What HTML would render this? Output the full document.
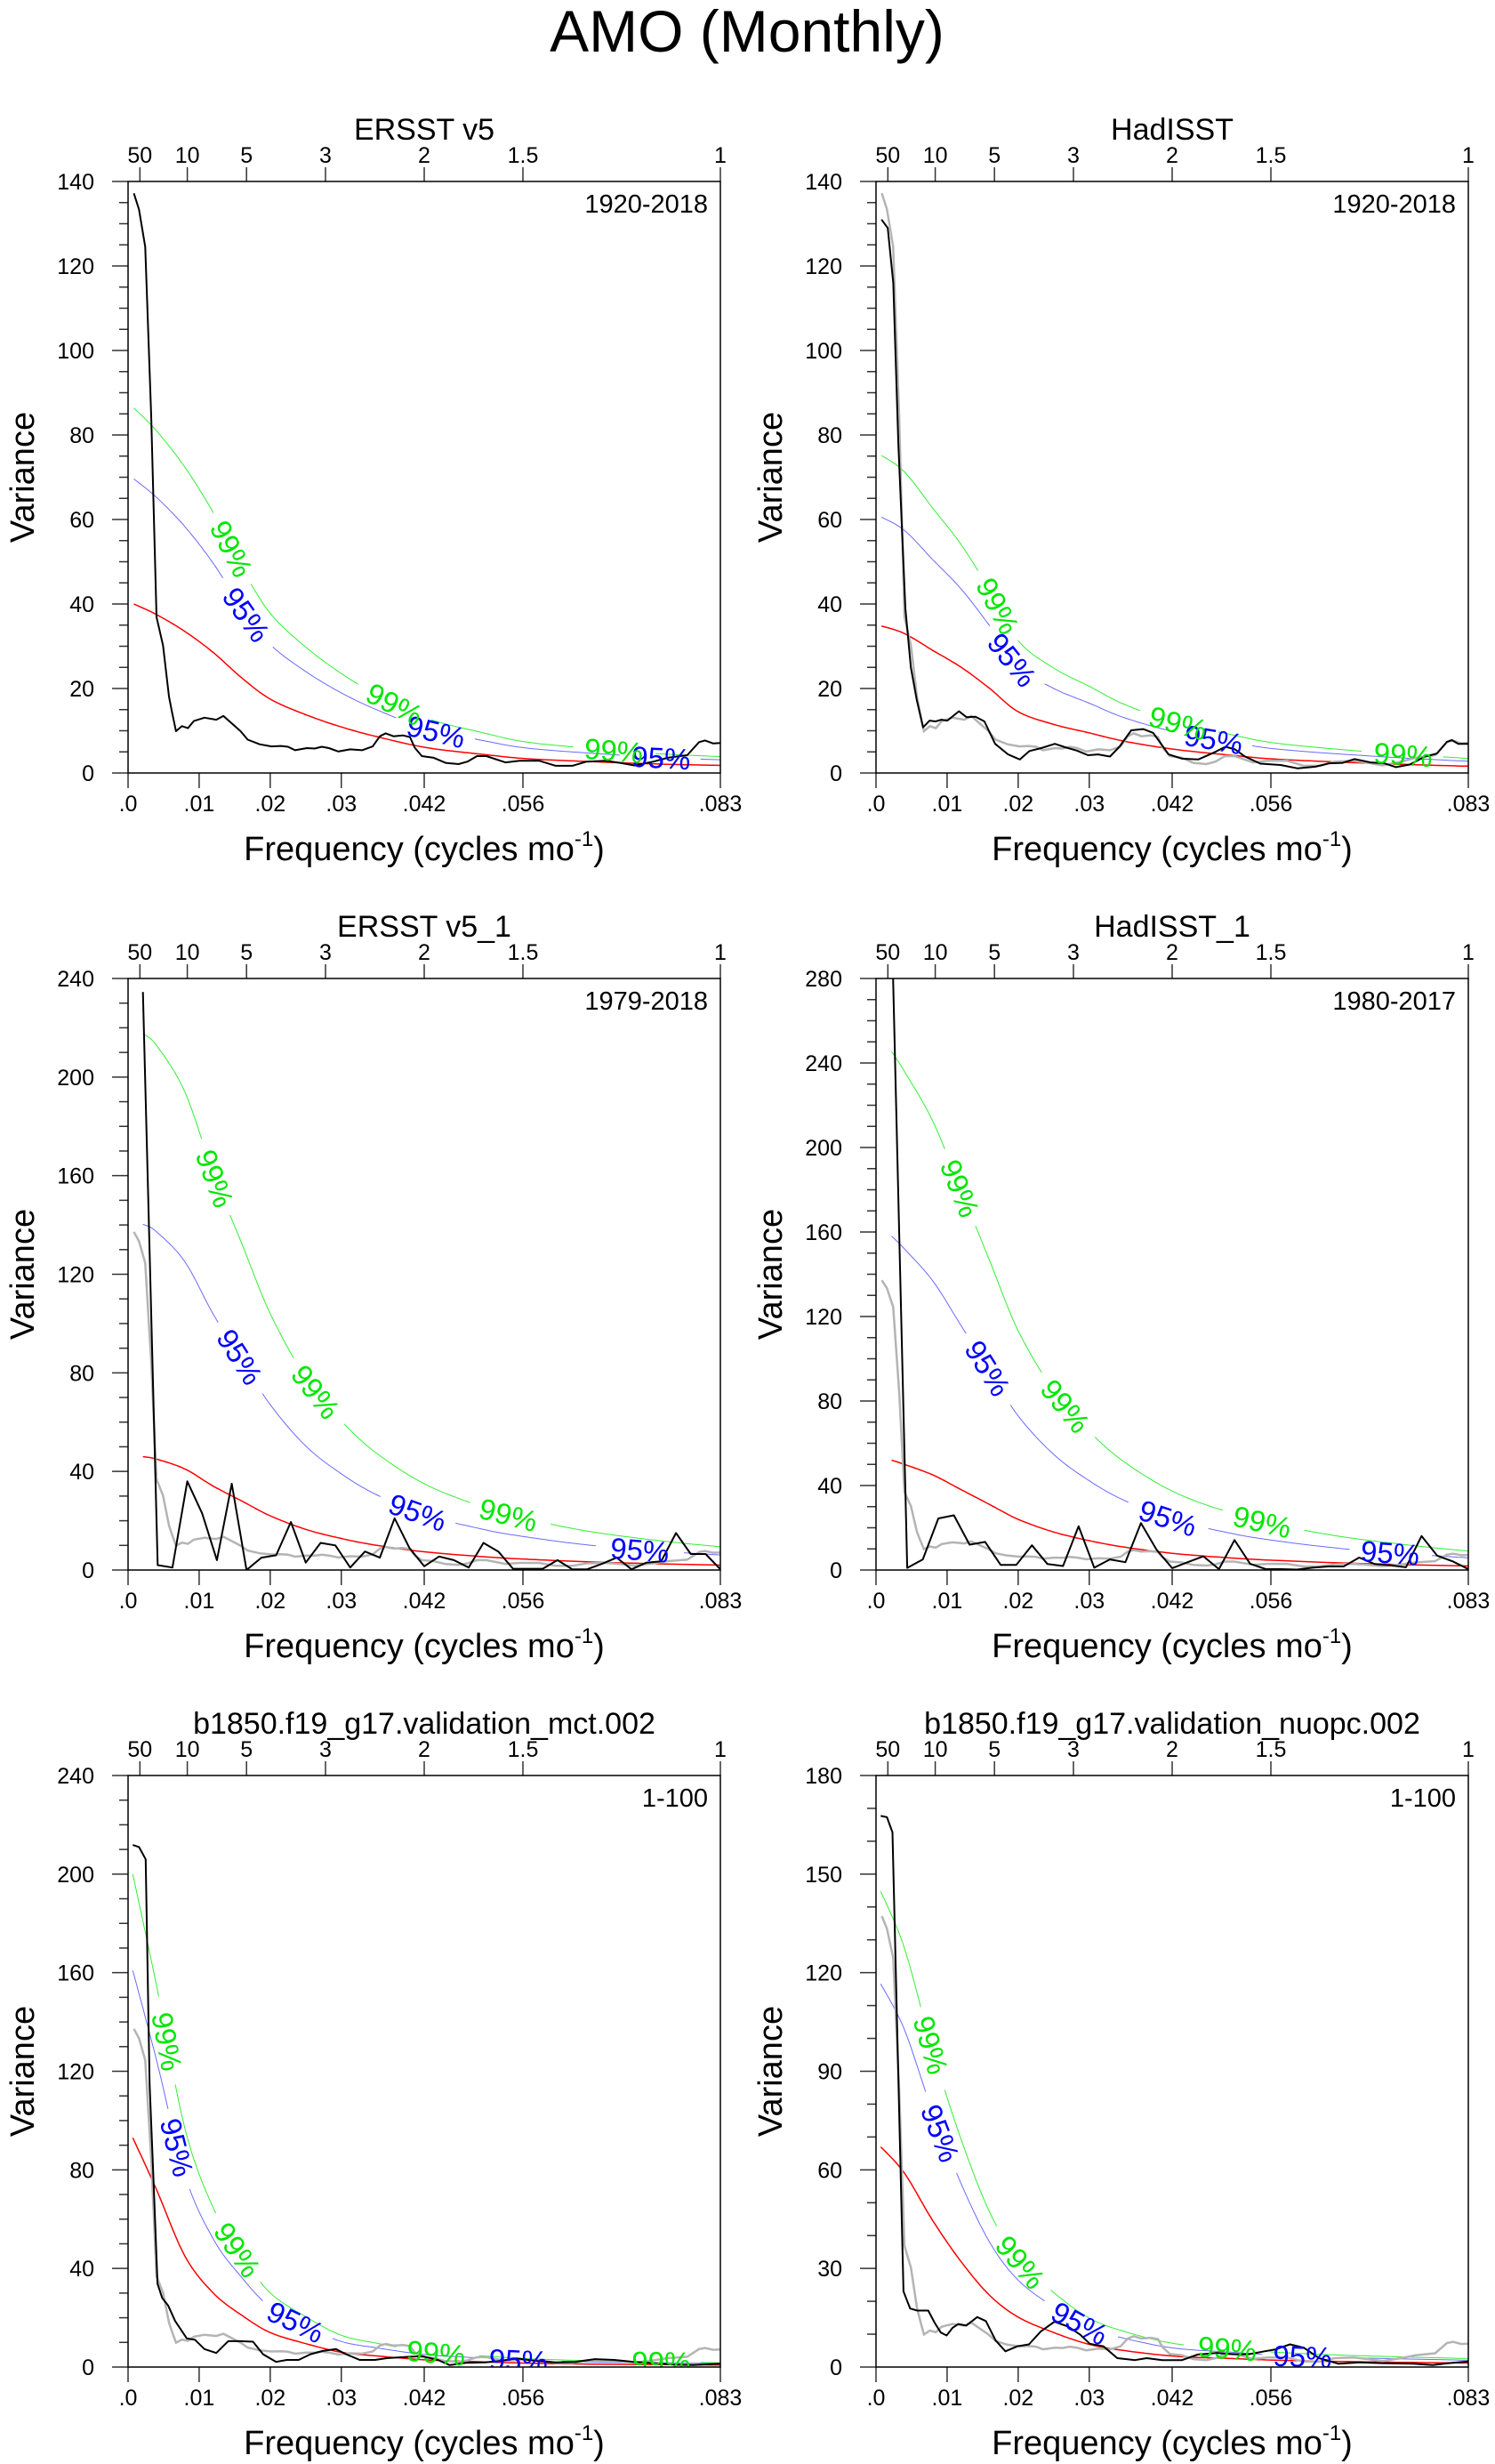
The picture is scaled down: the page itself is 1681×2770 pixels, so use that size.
<!DOCTYPE html>
<html><head><meta charset="utf-8"><title>AMO (Monthly)</title>
<style>
html,body{margin:0;padding:0;background:#fff;}
svg{display:block;font-family:"Liberation Sans",Arial,sans-serif;}
</style></head>
<body>
<svg id="chart" width="1681" height="2770" viewBox="0 0 1681 2770" xmlns="http://www.w3.org/2000/svg">
<rect x="0" y="0" width="1681" height="2770" fill="#fff"/>
<text x="840" y="58" font-size="66" text-anchor="middle" fill="#000">AMO (Monthly)</text>
</svg>
<script>
// Frequencies are in cycles per century (cycles/mo * 1200); 100 = 1/12 cycles/mo
const refFreq = [0.97,1.85,2.9,3.9,4.8,5.9,6.9,7.4,8.1,9.1,10.1,11.1,12.9,14.9,16.1,17.7,19.0,20.2,22.2,24.2,25.8,27.0,28.2,30.2,31.5,32.7,33.9,35.5,37.5,39.5,41.3,42.5,43.5,44.8,46.4,47.6,48.4,49.6,51.6,53.6,55.8,57.3,58.9,60.5,63.7,66.1,69.4,72.2,75.0,77.4,80.6,83.1,85.5,88.7,91.1,94.4,96.4,97.4,98.8,100];
const refVar = [137.2,133.4,124.5,84.6,36.9,30.2,18.1,14.5,9.9,11.1,10.6,12.3,13.1,12.6,13.5,11.5,9.9,7.9,6.8,6.3,6.4,6.2,5.4,5.9,5.8,6.2,5.9,5.1,5.6,5.4,6.3,8.7,9.4,8.7,8.9,8.5,6.0,4.0,3.6,2.4,2.1,2.7,4.0,4.0,2.5,2.9,2.9,1.7,1.7,2.7,2.9,2.4,1.8,2.7,3.6,4.2,7.3,7.7,7.0,7.1];

const had1Freq = [0.93,1.98,2.91,3.77,4.96,5.89,6.88,7.94,9.06,10.05,11.05,12.04,14.0,15.3,16.8,18.3,20.1,22.3,24.3,25.9,27.9,30.2,31.9,33.9,35.8,37.5,39.5,41.1,43.1,45.1,46.8,49.4,51.7,54.4,57.0,59.0,60.6,62.3,64.9,68.3,71.2,74.2,76.5,78.8,80.8,83.5,85.8,87.8,90.1,92.7,94.7,96.4,97.2,98.3,100];
const had1Var = [131,129,116,78,39,25,17.3,10.8,12.4,12.2,12.6,12.4,14.6,13.2,13.3,12.2,6.9,4.4,3.2,5.2,5.9,6.9,6.1,5.3,4.2,4.4,3.9,6.2,10.1,10.4,9.5,4.4,3.4,3.2,4.8,6.2,5.6,3.9,2.2,1.9,1.1,1.5,2.3,2.4,3.3,2.5,2.3,1.4,2.0,3.9,4.6,7.4,7.8,6.9,6.9];

const ers2Idx = [1,2,3,4,5,6,7,8,9,10,11,12,13,14,15,16,17,18,19,20,21,22,23,24,25,26,27,28,29,30,31,32,33,34,35,36,37,38,39,40];
const ers2Var = [234.5,2,1,36,23,4,35,0,5,6,19.5,3,11,10,1,7.5,5,21,9,1.5,5.5,4,1,11,7.5,0.5,0.5,0.5,4,0.3,0.3,2.5,5,0.3,3,3.5,15,6.5,6.5,0.3];

const had2Idx = [1,2,3,4,5,6,7,8,9,10,11,12,13,14,15,16,17,18,19,20,21,22,23,24,25,26,27,28,29,30,31,32,33,34,35,36,37,38];
const had2Var = [310,1,5,24.4,25.9,12,13.3,2.4,2.4,11.7,2.8,1.9,20.7,1.1,5,3.7,22.2,9.6,0.9,3.7,6.5,0.4,14.2,3,0.4,0.4,0.2,1.1,1.7,1.7,5.9,2.8,2.2,1.3,16.1,6.8,4.1,0.4];

const mctFreq = [0.8,1.85,2.98,3.64,4.3,4.97,5.76,6.75,7.95,9.93,11.26,12.9,14.9,16.9,18.9,21.1,22.8,25.0,26.8,28.8,30.8,32.8,35.1,36.8,39.1,41.7,43.7,47.0,49.7,52.3,54.3,57.0,60.3,62.9,65.6,68.9,72.2,75.5,78.8,82.1,85.4,88.7,92.1,95.4,100];
const mctVar = [211.8,211,206,115,76,33.8,28,25,18.7,11.6,11.1,7.3,5.7,10.5,10.5,10.3,5.2,2.1,2.9,2.9,5.2,6.5,7.3,5.2,2.9,2.9,3.6,4.1,4.4,2.9,0.8,1.7,1.9,2.5,3.5,2.5,1.9,2.1,3.2,2.9,2.1,1.6,1.0,0.8,1.4];

const nuoFreq = [0.8,1.85,2.78,3.64,4.64,5.76,6.95,8.81,9.93,10.93,11.92,12.91,13.91,15.23,17.09,18.54,20.2,21.85,23.84,25.83,27.81,30.13,32.45,34.44,36.09,38.41,40.73,43.71,45.7,48.34,51.66,54.3,57.6,60.3,62.9,65.6,67.5,69.9,72.2,74.8,78.1,81.5,85.4,90.7,94.0,96.7,100];
const nuoVar = [167.7,167.3,162.7,98.5,23,17.8,17.2,17.2,13.4,10.5,9.6,11.9,13.1,12.6,15.2,14.0,8.1,4.8,6.3,6.9,10.8,13.8,12.3,9.9,7.1,6.3,2.7,2.1,2.7,2.1,2.1,3.8,4.3,3.9,3.9,4.8,5.4,6.9,5.9,2.7,1.0,1.4,1.2,1.0,0.6,1.2,1.7];

const markovGrid = [0,4.8,9.6,14.4,19.2,24,30,36,42,50.4,60,67.2,78,90,100];
const markovErs1 = [40,37.5,33.5,28.5,22.5,17.5,13.8,10.9,8.6,6.0,4.4,3.4,2.7,2.1,1.8];
const markovHad1 = [34.8,33,29,25,20,14.5,11.5,9.5,7.5,5.6,4.2,3.3,2.6,2.0,1.6];
const markovErs2 = [46,45,41,34,28,22,16.5,12.8,10,7.3,5.4,4.4,3.3,2.5,2.0];
const markovHad2 = [52,50,45,38,31,24,18,13.9,10.8,7.8,5.7,4.6,3.4,2.5,1.9];
const markovMct = [93,72,45,30,21,14,9.5,6,4.5,2.9,2.1,1.6,1.2,1.0,0.8];
const markovNuo = [67,59,44.5,32,21.8,15.2,10.5,6.9,5,3.3,2.6,2.1,1.7,1.4,1.2];
const conf95 = [1.74,1.74,3.05,3.04,1.73,1.74];
const conf99 = [2.16,2.16,4.73,4.72,2.15,2.16];
const curveStart = [0.97,0.93,2.5,2.63,0.8,0.8];

const panelTitles = ["ERSST v5","HadISST","ERSST v5_1","HadISST_1","b1850.f19_g17.validation_mct.002","b1850.f19_g17.validation_nuopc.002"];
const panelYears = ["1920-2018","1920-2018","1979-2018","1980-2017","1-100","1-100"];
const yMaxes = [140,140,240,280,240,180];
const yMajor = [20,20,40,40,40,30];
const yMinor = [5,5,10,10,10,10];
const topPeriods = [50,10,5,3,2,1.5,1];
const bottomTickFreq = [0,0.01,0.02,0.03,1/24,1/18,1/12];
const bottomTickLabels = [".0",".01",".02",".03",".042",".056",".083"];
const lab99 = [[17.5,45,82],[20.6,51,89],[14.7,31.7,64.2],[14.2,32,65.2],[6.6,18.5,52,90],[9.3,24.4,59.3]];
const lab95 = [[20,52,90],[23,57],[18.9,48.9,86.4],[18.9,49.3,86.8],[8.3,28.3,65.9],[10.9,34.4,72]];

const svg = document.getElementById('chart');
const NS = 'http://www.w3.org/2000/svg';
function mk(tag, attrs, parent){const e=document.createElementNS(NS,tag);for(const k in attrs)e.setAttribute(k,attrs[k]);(parent||svg).appendChild(e);return e;}

const colX = [144,985], rowY = [204,1100,1996], PW = 666, PH = 665;

function catmull(pts, n){
  const out=[];
  for(let i=0;i<pts.length-1;i++){
    const p0=pts[Math.max(0,i-1)],p1=pts[i],p2=pts[i+1],p3=pts[Math.min(pts.length-1,i+2)];
    for(let s=0;s<n;s++){const t=s/n,t2=t*t,t3=t2*t;
      out.push([0.5*((2*p1[0])+(-p0[0]+p2[0])*t+(2*p0[0]-5*p1[0]+4*p2[0]-p3[0])*t2+(-p0[0]+3*p1[0]-3*p2[0]+p3[0])*t3),
                0.5*((2*p1[1])+(-p0[1]+p2[1])*t+(2*p0[1]-5*p1[1]+4*p2[1]-p3[1])*t2+(-p0[1]+3*p1[1]-3*p2[1]+p3[1])*t3)]);}
  }
  out.push(pts[pts.length-1]);return out;
}

const series = [
  [refFreq, refVar, markovErs1],
  [had1Freq, had1Var, markovHad1],
  [ers2Idx.map(i=>i*2.5), ers2Var, markovErs2],
  [had2Idx.map(i=>i*100/38), had2Var, markovHad2],
  [mctFreq, mctVar, markovMct],
  [nuoFreq, nuoVar, markovNuo]
];

for(let p=0;p<6;p++){
  const L=colX[p%2], T=rowY[Math.floor(p/2)], R=L+PW, B=T+PH;
  const ymax=yMaxes[p];
  const xs=f=>L+f/100*PW, ys=v=>B-v/ymax*PH;
  const g=mk('g',{});
  
  
  const cid='clip'+p;
  const cp=mk('clipPath',{id:cid},g); mk('rect',{x:L,y:T,width:PW,height:PH},cp);
  const tt=mk('text',{x:L+PW/2,y:T-47,'font-size':34,'text-anchor':'middle'},g); tt.textContent=panelTitles[p];
   
  const yr=mk('text',{x:R-14,y:T+35,'font-size':29,'text-anchor':'end'},g); yr.textContent=panelYears[p];
   
  for(let v=0;v<=ymax+1e-9;v+=yMinor[p]){
    const major=Math.abs(v/yMajor[p]-Math.round(v/yMajor[p]))<1e-6;
    const tk=mk('line',{x1:L-(major?18:10),x2:L,y1:ys(v),y2:ys(v),stroke:'#333','stroke-width':1.5},g);
     
    if(major){const t=mk('text',{x:L-38,y:ys(v)+9,'font-size':25,'text-anchor':'end'},g);t.textContent=String(v);
       }
  }
  bottomTickFreq.forEach((f,i)=>{const x=xs(f*1200);
    const tk=mk('line',{x1:x,x2:x,y1:B,y2:B+17,stroke:'#333','stroke-width':1.5},g);
     
    const t=mk('text',{x:x,y:B+43,'font-size':25,'text-anchor':'middle'},g);t.textContent=bottomTickLabels[i];
     });
  topPeriods.forEach(P=>{const x=xs(100/P);
    const tk=mk('line',{x1:x,x2:x,y1:T-16,y2:T,stroke:'#333','stroke-width':1.5},g);
     
    const t=mk('text',{x:x,y:T-21,'font-size':25,'text-anchor':'middle'},g);t.textContent=String(P);
     });
  const yt=mk('text',{x:0,y:0,'font-size':38,'text-anchor':'middle',transform:`translate(${L-106},${T+PH/2}) rotate(-90)`},g);
  yt.textContent='Variance';  
  const xt=mk('text',{x:L+PW/2,y:B+98,'font-size':38,'text-anchor':'middle'},g);
   
  xt.appendChild(document.createTextNode('Frequency (cycles mo'));
  const sup=mk('tspan',{'font-size':24,dy:-16},xt); sup.textContent='-1';
  const cl=mk('tspan',{dy:16},xt); cl.textContent=')';

  const plot=mk('g',{'clip-path':`url(#${cid})`},g);
  const [fx,fv,mk0]=series[p];
  const grid=markovGrid.map((f,i)=>[i===0?curveStart[p]:f, mk0[i]]);
  const dense=catmull(grid,12);
  const curves=[[1,'#ff0000',1.5,null,null],[conf95[p],'#6a6aff',1,lab95[p],'#0000ff'],[conf99[p],'#33ee33',1,lab99[p],'#00e600']];
  const curveNames=['markov-curve','confidence-95-curve','confidence-99-curve'];
  const labelsToDraw=[];
  curves.forEach((c,ci)=>{
    const pts=dense.map(d=>[xs(d[0]),ys(d[1]*c[0])]);
    const labs=(c[3]||[]).map(f=>{
      const sx=xs(f); let k=0; while(k<pts.length-2&&pts[k+1][0]<sx)k++;
      const a=pts[k],b=pts[k+1]; const t=(sx-a[0])/((b[0]-a[0])||1);
      const py=a[1]+t*(b[1]-a[1]);
      const k1=Math.max(0,k-3),k2=Math.min(pts.length-1,k+4);
      const ang=Math.atan2(pts[k2][1]-pts[k1][1],pts[k2][0]-pts[k1][0])*180/Math.PI;
      return {x:sx,y:py,ang:ang};
    });
    let d='',pen=false;
    pts.forEach(q=>{
      const hide=labs.some(l=>Math.hypot(q[0]-l.x,q[1]-l.y)<44);
      if(hide){pen=false;return;}
      d+=(pen?'L':'M')+q[0].toFixed(1)+' '+q[1].toFixed(1);pen=true;
    });
    const path=mk('path',{d:d,fill:'none',stroke:c[1],'stroke-width':c[2]},plot);
     
    labs.forEach(l=>labelsToDraw.push([l,c[4],ci===1?'95%':'99%']));
  });
  if(p!==0){
    const gp=mk('path',{d:refFreq.map((f,i)=>(i?'L':'M')+xs(f).toFixed(1)+' '+ys(refVar[i]).toFixed(1)).join(''),fill:'none',stroke:'#b4b4b4','stroke-width':2.5},plot);
     
  }
  const bp=mk('path',{d:fx.map((f,i)=>(i?'L':'M')+xs(f).toFixed(1)+' '+ys(fv[i]).toFixed(1)).join(''),fill:'none',stroke:'#000','stroke-width':2,'stroke-linejoin':'round'},plot);
   
  labelsToDraw.forEach(([l,col,txt])=>{
    const t=mk('text',{x:0,y:0,'font-size':33,'text-anchor':'middle',fill:col,transform:`translate(${l.x.toFixed(1)},${l.y.toFixed(1)}) rotate(${l.ang.toFixed(1)})`,dy:12},plot);
    t.textContent=txt;
     
  });
  const fr=mk('rect',{x:L,y:T,width:PW,height:PH,fill:'none',stroke:'#000','stroke-width':1.5},g);
   
}
</script>
</body></html>
